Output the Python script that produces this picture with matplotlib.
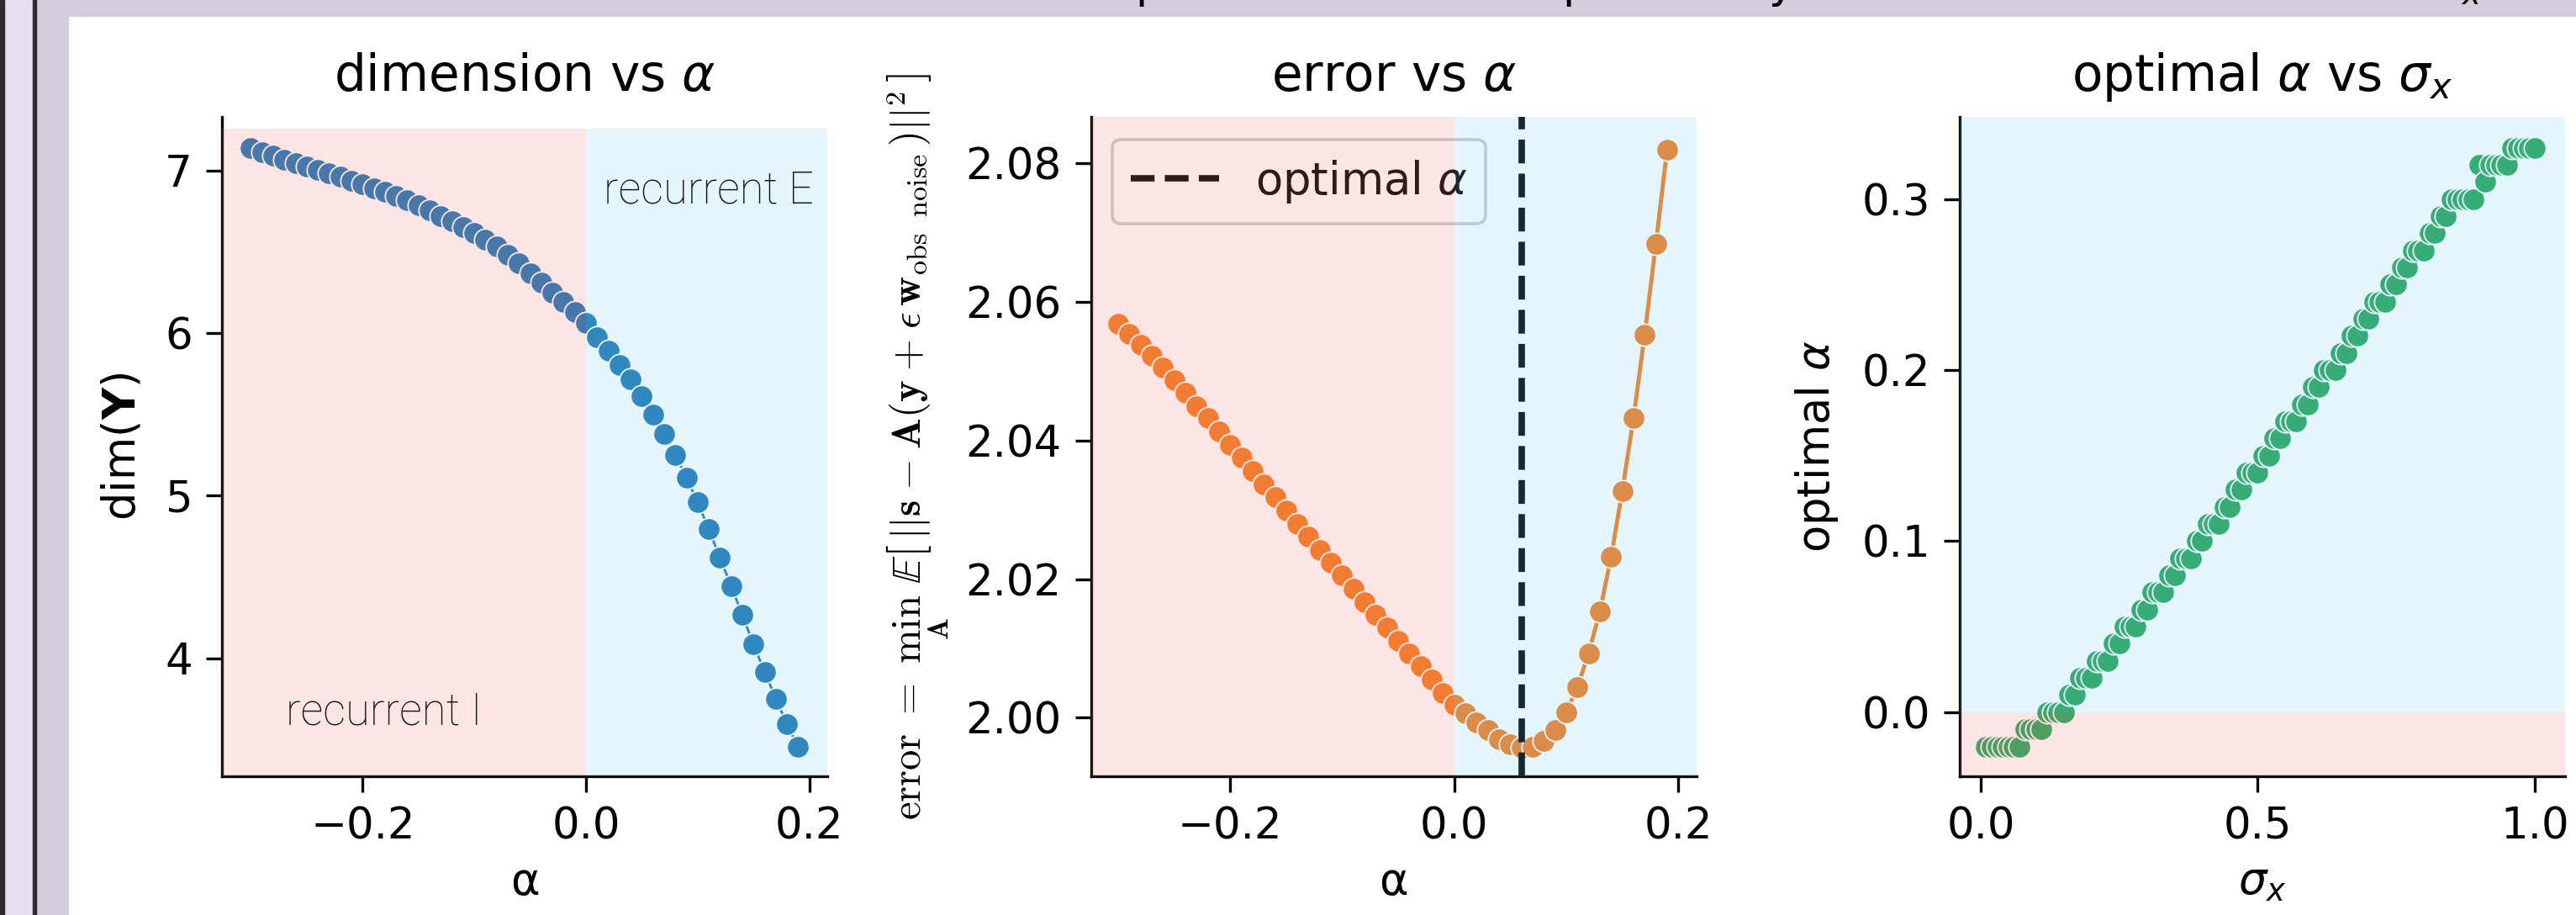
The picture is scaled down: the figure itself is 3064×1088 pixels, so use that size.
import numpy as np
import matplotlib
matplotlib.use("Agg")
import matplotlib.pyplot as plt
from matplotlib.patches import Rectangle

# ---- data ----
alpha_vals = np.round(np.arange(-0.30, 0.195, 0.01), 2)

dim_vals = [7.138, 7.115, 7.092, 7.068, 7.045, 7.025, 7.005, 6.984, 6.962, 6.939,
            6.916, 6.892, 6.868, 6.842, 6.816, 6.786, 6.755, 6.721, 6.686, 6.652,
            6.617, 6.575, 6.531, 6.482, 6.428, 6.367, 6.310, 6.250, 6.190, 6.130,
            6.062, 5.975, 5.893, 5.803, 5.714, 5.613, 5.498, 5.379, 5.250, 5.110,
            4.959, 4.794, 4.618, 4.445, 4.266, 4.086, 3.917, 3.752, 3.594, 3.457]

error_vals = [2.0569, 2.0554, 2.0538, 2.0522, 2.0505, 2.0487, 2.0469, 2.0450, 2.0432, 2.0413,
              2.0394, 2.0375, 2.0356, 2.0337, 2.0318, 2.0299, 2.0280, 2.0261, 2.0242, 2.0224,
              2.0205, 2.0186, 2.0167, 2.0149, 2.0130, 2.0111, 2.0092, 2.0074, 2.0055, 2.0036,
              2.0018, 2.0007, 1.9993, 1.9982, 1.9969, 1.9961, 1.9957, 1.9958, 1.9966, 1.9982,
              2.0008, 2.0044, 2.0093, 2.0153, 2.0232, 2.0327, 2.0432, 2.0553, 2.0684, 2.0820]

best_alpha = 0.06

sigma_vals = np.round(np.arange(0.01, 1.005, 0.01), 2)
# (optimal alpha, number of consecutive sigma values at it)
opt_steps = [(-0.02, 7), (-0.01, 4), (0.00, 4), (0.01, 2), (0.02, 3), (0.03, 3),
             (0.04, 2), (0.05, 3), (0.06, 2), (0.07, 3), (0.08, 2), (0.09, 3),
             (0.10, 2), (0.11, 3), (0.12, 2), (0.13, 2), (0.14, 3), (0.15, 2),
             (0.16, 2), (0.17, 3), (0.18, 2), (0.19, 2), (0.20, 3), (0.21, 2),
             (0.22, 2), (0.23, 2), (0.24, 3), (0.25, 2), (0.26, 2), (0.27, 3),
             (0.28, 2), (0.29, 2), (0.30, 5), (0.32, 1), (0.31, 1), (0.32, 4),
             (0.33, 5)]
opt_alpha_vals = [v for v, n in opt_steps for _ in range(n)]

blue = "#1f77b4"
orange = "#f47c20"
green = "#27a55a"
pink_shade = "#f08080"
blue_shade = "#78cdf0"

W, H = 3064, 1088
fig = plt.figure(figsize=(W / 100, H / 100), dpi=100)

# screenshot frame around the figure
fig.patches.append(Rectangle((0, 1 - 19 / H), 1, 19 / H, transform=fig.transFigure,
                             color="#d3cddd", zorder=-10))
fig.patches.append(Rectangle((0, 0), 81 / W, 1, transform=fig.transFigure,
                             color="#d3cddd", zorder=-10))
fig.patches.append(Rectangle((5 / W, 0), 34 / W, 1, transform=fig.transFigure,
                             color="#e6e0ee", zorder=-9))
fig.patches.append(Rectangle((0, 0), 5 / W, 1, transform=fig.transFigure,
                             color="#2b2b2b", zorder=-9))
fig.patches.append(Rectangle((39 / W, 0), 4 / W, 1, transform=fig.transFigure,
                             color="#2b2b2b", zorder=-9))
# descenders of a cut-off caption above
for xp, s in [(1367, "p"), (1875, "p"), (2119, "y"), (2924, r"$\sigma_x$")]:
    fig.text(xp / W, 1 + 3 / H, s, fontsize=38, ha="center", va="baseline")


def px_axes(left, right, top=139, bottom=923.3):
    return fig.add_axes([left / W, (H - bottom) / H, (right - left) / W, (bottom - top) / H])


tick_fs = 37
lab_fs = 38
title_fs = 43


def style(ax):
    for side in ["top", "right"]:
        ax.spines[side].set_visible(False)
    for side in ["left", "bottom"]:
        ax.spines[side].set_linewidth(2.4)
    ax.tick_params(labelsize=tick_fs, width=2.4, length=13.5, pad=12)


# ---- panel 1: dimension vs alpha ----
ax1 = px_axes(264.3, 984.3)
ax1.plot(alpha_vals, dim_vals, "-o", color=blue, lw=2, ms=19,
         markeredgecolor="white", markeredgewidth=1.3, zorder=2)
ax1.set_xlim(-0.3257, 0.2163)
ax1.set_ylim(3.273, 7.33)
ax1.axvspan(-0.3257, 0, ymax=0.982, color=pink_shade, alpha=0.2, lw=0, zorder=3)
ax1.axvspan(0, 0.2163, ymax=0.982, color=blue_shade, alpha=0.2, lw=0, zorder=3)
ax1.text(0.204, 6.80, "recurrent E", fontsize=38, family="Roboto", fontweight="light",
         color="#111111", ha="right", va="baseline", zorder=4)
ax1.text(-0.181, 3.595, "recurrent I", fontsize=38, family="Roboto", fontweight="light",
         color="#111111", ha="center", va="baseline", zorder=4)
ax1.set_yticks([4, 5, 6, 7])
ax1.set_xticks([-0.2, 0.0, 0.2])
ax1.set_title(r"dimension vs $\alpha$", fontsize=title_fs, pad=22)
ax1.set_xlabel("α", fontsize=lab_fs, labelpad=10)
ax1.set_ylabel(r"dim($\mathbf{Y}$)", fontsize=lab_fs, labelpad=18)
style(ax1)

# ---- panel 2: error vs alpha ----
ax2 = px_axes(1297.7, 2017.7)
ax2.plot(alpha_vals, error_vals, "-o", color=orange, lw=3.5, ms=19,
         markeredgecolor="white", markeredgewidth=1.3, zorder=2)
ax2.axvline(best_alpha, color="black", ls="--", lw=5.5, zorder=2.5, label=r"optimal $\alpha$")
ax2.set_xlim(-0.3242, 0.2161)
ax2.set_ylim(1.9915, 2.0867)
ax2.axvspan(-0.3242, 0, color=pink_shade, alpha=0.2, lw=0, zorder=3)
ax2.axvspan(0, 0.2161, color=blue_shade, alpha=0.2, lw=0, zorder=3)
ax2.set_yticks([2.00, 2.02, 2.04, 2.06, 2.08])
ax2.set_xticks([-0.2, 0.0, 0.2])
# legend sits under the translucent shading, as in the original
leg = ax2.legend(loc="upper left", fontsize=38, borderpad=0.42, handlelength=2.0,
                 handletextpad=0.8, borderaxespad=0, bbox_to_anchor=(0.0347, 0.966))
leg.set_zorder(2.8)
leg.get_frame().set_linewidth(2.6)
leg.get_frame().set_edgecolor("0.75")
ax2.set_title(r"error vs $\alpha$", fontsize=title_fs, pad=22)
ax2.set_xlabel("α", fontsize=lab_fs, labelpad=10)
ax2.set_ylabel(r"$\mathrm{error}\ =\ \min_{\mathbf{A}}\ \mathbb{E}\left[\,||\mathbf{s}\;-\;"
               r"\mathbf{A}(\mathbf{y}\;+\;\epsilon\,\mathbf{w}_{\mathrm{obs\ \ noise}})||^2\,\right]$",
               fontsize=35, math_fontfamily="cm", labelpad=12)
style(ax2)

# ---- panel 3: optimal alpha vs sigma_x ----
ax3 = px_axes(2331.3, 3051)
ax3.scatter(sigma_vals, opt_alpha_vals, s=19 ** 2, color=green, edgecolor="white",
            linewidth=1.3, zorder=2)
ax3.set_xlim(-0.0373, 1.0549)
ax3.set_ylim(-0.0376, 0.348)
ax3.axhspan(-0.0376, 0, color=pink_shade, alpha=0.2, lw=0, zorder=3)
ax3.axhspan(0, 0.348, color=blue_shade, alpha=0.2, lw=0, zorder=3)
ax3.set_yticks([0.0, 0.1, 0.2, 0.3])
ax3.set_xticks([0.0, 0.5, 1.0])
ax3.set_title(r"optimal $\alpha$ vs $\sigma_x$", fontsize=title_fs, pad=22)
ax3.set_xlabel(r"$\sigma_x$", fontsize=lab_fs, labelpad=10)
ax3.set_ylabel(r"optimal $\alpha$", fontsize=lab_fs, labelpad=18)
style(ax3)

fig.savefig("out.png", dpi=100)
